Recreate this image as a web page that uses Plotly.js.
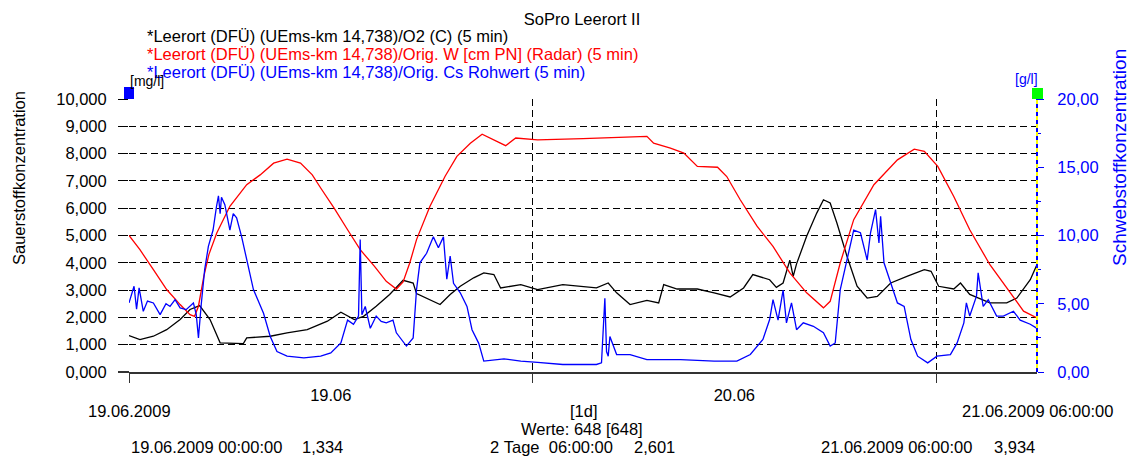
<!DOCTYPE html>
<html>
<head>
<meta charset="utf-8">
<script src="https://cdn.plot.ly/plotly-3.0.1.min.js"></script>
<style>html,body{margin:0;padding:0;background:#fff;}</style>
</head>
<body>
<div id="chart" style="width:1132px;height:457px;"></div>
<script>
// hours since 19.06.2009 00:00 and values
// O2 concentration [mg/l] (left axis)
const o2 = [[0,1.334],[0.65,1.19],[1.45,1.31],[2.24,1.55],[3.04,1.92],[3.63,2.29],[4.2,2.43],[4.82,1.92],[5.42,1.07],[6.2,1.04],[6.8,1.04],[7.0,1.25],[8.4,1.31],[9.4,1.43],[10.6,1.55],[11.8,1.86],[12.6,2.19],[13.4,1.92],[13.95,2.04],[14.7,2.41],[15.5,2.84],[16.3,3.36],[16.9,3.26],[17.1,2.87],[17.9,2.65],[18.5,2.47],[19.1,2.84],[19.7,3.14],[20.5,3.45],[21.1,3.63],[21.7,3.57],[22.1,3.08],[23.3,3.2],[24.3,3.02],[25.8,3.2],[27.8,3.08],[28.5,3.26],[29.0,2.9],[29.8,2.47],[30.8,2.62],[31.5,2.53],[31.8,3.2],[32.6,3.04],[33.8,3.04],[34.8,2.9],[35.75,2.75],[36.55,3.08],[37.1,3.57],[38.1,3.38],[38.5,3.1],[38.9,3.26],[39.3,4.1],[39.5,3.5],[39.7,3.96],[40.3,4.97],[40.9,5.82],[41.3,6.31],[41.7,6.19],[42.1,5.46],[42.7,4.24],[43.3,3.14],[43.9,2.71],[44.5,2.77],[45.3,3.26],[46.3,3.51],[47.3,3.75],[47.7,3.69],[48.15,3.14],[49.05,3.04],[49.45,3.26],[50.0,2.84],[51.2,2.53],[52.2,2.53],[52.8,2.71],[53.6,3.38],[54,3.934]];
// Water level W (Radar), drawn on the left scale
const wRadar = [[0,5.0],[0.65,4.48],[1.45,3.75],[2.24,3.02],[3.04,2.47],[3.63,2.10],[3.9,2.04],[4.13,2.41],[4.45,3.5],[4.75,4.3],[5.22,5.09],[6.0,6.07],[7.0,6.86],[7.8,7.22],[8.6,7.65],[9.4,7.8],[10.2,7.65],[10.9,7.22],[11.4,6.74],[12.2,6.0],[13.0,5.21],[13.75,4.48],[14.6,3.87],[15.3,3.32],[15.9,3.04],[16.3,3.3],[16.7,4.0],[17.1,4.85],[17.9,6.07],[18.8,7.17],[19.5,7.9],[20.3,8.38],[21.0,8.71],[21.7,8.5],[22.4,8.29],[23.0,8.57],[24.3,8.5],[27.0,8.55],[30.8,8.63],[31.2,8.38],[32.2,8.2],[33.0,8.02],[33.8,7.53],[35.0,7.5],[35.55,7.16],[36.35,6.31],[37.35,5.34],[38.3,4.6],[39.3,3.63],[40.3,2.9],[41.3,2.35],[41.7,2.59],[42.3,4.0],[43.1,5.58],[44.3,6.86],[45.7,7.77],[46.7,8.16],[47.3,8.08],[48.1,7.53],[49.05,6.43],[50.0,5.21],[51.2,3.93],[52.4,2.9],[53.2,2.23],[54,1.98]];
// Cs raw value [g/l] (right axis)
const cs = [[0,5.06],[0.3,6.28],[0.45,4.6],[0.6,6.16],[0.85,4.45],[1.1,5.2],[1.45,5.06],[1.85,4.2],[2.2,5.0],[2.44,4.8],[2.74,5.3],[3.04,4.7],[3.4,4.57],[3.83,5.06],[4.0,4.2],[4.13,2.5],[4.3,5.0],[4.5,7.5],[4.72,9.2],[5.0,10.4],[5.2,12.1],[5.32,12.9],[5.42,11.6],[5.5,12.8],[5.7,12.26],[6.0,10.4],[6.2,11.6],[6.4,11.3],[6.7,9.9],[7.0,8.2],[7.4,6.04],[8.0,4.3],[8.4,2.6],[8.8,1.5],[9.4,1.16],[10.4,1.04],[11.4,1.16],[12.0,1.4],[12.6,2.13],[13.0,3.8],[13.35,3.5],[13.65,4.1],[13.75,9.7],[13.85,4.2],[14.05,4.8],[14.35,3.2],[14.7,4.1],[15.0,3.7],[15.3,3.6],[15.7,3.8],[15.9,2.87],[16.5,1.9],[16.9,2.5],[17.1,6.04],[17.3,8.0],[17.7,8.7],[18.1,9.9],[18.4,9.1],[18.7,9.9],[18.9,6.8],[19.1,8.5],[19.3,6.5],[19.7,5.8],[20.1,4.8],[20.4,3.1],[20.8,2.1],[21.1,0.8],[22.3,0.96],[23.3,0.8],[24.3,0.7],[25.8,0.55],[27.8,0.55],[28.1,0.67],[28.3,5.4],[28.4,1.5],[28.5,1.16],[28.6,2.6],[29.0,1.28],[29.8,1.28],[30.8,0.9],[32.8,0.9],[34.8,0.8],[36.15,0.8],[36.95,1.28],[37.7,2.38],[38.1,3.84],[38.3,5.3],[38.6,3.8],[38.9,6.0],[39.1,3.6],[39.4,5.06],[39.7,3.1],[40.1,3.6],[40.7,3.35],[41.3,2.87],[41.7,1.9],[42.0,2.13],[42.3,6.04],[42.6,7.7],[43.1,10.4],[43.5,10.2],[43.9,8.2],[44.1,10.2],[44.4,11.9],[44.6,9.45],[44.7,11.4],[44.9,8.0],[45.3,6.5],[45.7,5.06],[46.1,4.8],[46.5,2.38],[46.9,1.16],[47.5,0.67],[48.05,1.16],[48.85,1.28],[49.25,2.13],[49.65,3.6],[49.8,5.06],[50.0,4.1],[50.4,5.55],[50.5,7.26],[50.8,4.8],[51.1,5.3],[51.6,4.1],[52.0,4.1],[52.6,4.45],[53.0,3.8],[53.6,3.5],[54,3.2]];

const seriesNames = ['*Leerort (DFÜ) (UEms-km 14,738)/O2 (C) (5 min)',
  '*Leerort (DFÜ) (UEms-km 14,738)/Orig. W [cm PN] (Radar) (5 min)',
  '*Leerort (DFÜ) (UEms-km 14,738)/Orig. Cs Rohwert (5 min)'];
const seriesColors = ['#000000', '#ff0000', '#0000ff'];
const dayTickVals = [12, 36];
const dayTickText = ['19.06', '20.06'];
const dayLines = [0, 24, 48];

const FONT = 'Liberation Sans, Arial, sans-serif';
const FS = 16.5;
const col = (arr, i) => arr.map(p => p[i]);

const traces = [
  {x: col(o2,0), y: col(o2,1), type:'scatter', mode:'lines', name: seriesNames[0],
   line:{color: seriesColors[0], width:1.3}, yaxis:'y'},
  {x: col(wRadar,0), y: col(wRadar,1), type:'scatter', mode:'lines', name: seriesNames[1],
   line:{color: seriesColors[1], width:1.3}, yaxis:'y'},
  {x: col(cs,0), y: col(cs,1), type:'scatter', mode:'lines', name: seriesNames[2],
   line:{color: seriesColors[2], width:1.3}, yaxis:'y2'}
];

const pyTop = 99, pyBot = 372, ph = pyBot - pyTop;
const pxL = 129, pw = 908;
const py = v => (pyBot - v) / ph;
const pxx = v => (v - pxL) / pw;

const ann = [];
const txt = (text, x, y, xa, color, size, extra) => ann.push(Object.assign({
  text, x, y, xref:'paper', yref:'paper', xanchor:xa, yanchor:'middle', showarrow:false,
  font:{family:FONT, size:size||FS, color:color||'#000'}}, extra||{}));

// legend lines
seriesNames.forEach((n,i) => txt(n, pxx(145), py(36 + i*18), 'left', seriesColors[i]));
txt('[mg/l]', pxx(128), py(81), 'left', '#000', 14);
txt('[g/l]', pxx(1026), py(79), 'center', '#0000ff', 14);
txt('Sauerstoffkonzentration', pxx(19), py(178), 'center', '#000', FS, {textangle:-90});
txt('Schwebstoffkonzentration', pxx(1119), py(158), 'center', '#0000ff', 19, {textangle:-90});
// bottom info
txt('19.06.2009', 0, py(411), 'center');
txt('[1d]', pxx(583.5), py(411), 'center');
txt('21.06.2009 06:00:00', pxx(1115), py(411), 'right');
txt('Werte: 648 [648]', pxx(582), py(429), 'center');
txt('19.06.2009 00:00:00', 0, py(447), 'left');
txt('1,334', pxx(345), py(447), 'right');
txt('2 Tage  06:00:00'.replace(/ /g,'\u00a0'), pxx(488), py(447), 'left');
txt('2,601', pxx(676.5), py(447), 'right');
txt('21.06.2009 06:00:00', pxx(819), py(447), 'left');
txt('3,934', 1, py(447), 'right');

const layout = {
  width:1132, height:457,
  margin:{l:129, r:95, t:99, b:85, pad:0},
  paper_bgcolor:'#ffffff', plot_bgcolor:'#ffffff',
  font:{family:FONT, size:FS, color:'#000'},
  separators:',.',
  showlegend:false,
  title:{text:'SoPro Leerort II', x:582/1132, xref:'container', xanchor:'center',
         y:1-19/457, yref:'container', yanchor:'middle', font:{family:FONT, size:FS, color:'#000'}},
  xaxis:{range:[0,54], tickmode:'array', tickvals:dayTickVals, ticktext:dayTickText,
    ticks:'outside', ticklen:7, tickcolor:'rgba(0,0,0,0)', showgrid:false, zeroline:false,
    showline:true, linecolor:'#333333', linewidth:2, tickfont:{size:FS},
    minor:{tickmode:'array', tickvals:dayLines, ticks:'outside', ticklen:9, tickwidth:1, tickcolor:'#333',
      showgrid:true, gridcolor:'#000', gridwidth:1, griddash:'7px,4px'}},
  yaxis:{range:[0,10], tickmode:'linear', tick0:0, dtick:1, tickformat:'.3f',
    ticks:'outside', ticklen:10, tickcolor:'#000', tickwidth:1, ticklabelstandoff:8,
    showgrid:true, gridcolor:'#000', gridwidth:1, griddash:'7px,4px',
    zeroline:false, showline:false, tickfont:{size:FS, color:'#000'}},
  yaxis2:{range:[0,20], overlaying:'y', side:'right', tickmode:'linear', tick0:0, dtick:5,
    tickformat:'.2f', ticks:'outside', ticklen:6, tickcolor:'#0000ff', tickwidth:1, ticklabelstandoff:10,
    showgrid:false, zeroline:false, showline:false, tickfont:{size:FS, color:'#0000ff'},
    minor:{dtick:2.5, ticks:'outside', ticklen:3, tickcolor:'#0000ff'}},
  shapes:[
    {type:'line', xref:'paper', yref:'paper', x0:1, x1:1, y0:0, y1:1, line:{color:'#ffff00', width:2}},
    {type:'line', xref:'paper', yref:'paper', x0:1, x1:1, y0:0, y1:1, line:{color:'#0000ff', width:2, dash:'4px,4px'}},
    {type:'line', xref:'paper', yref:'paper', x0:pxx(118), x1:0, y0:0, y1:0, line:{color:'#333333', width:2}},
    {type:'rect', xref:'paper', yref:'paper', x0:pxx(124), x1:pxx(134), y0:py(99), y1:py(87), fillcolor:'#0000ff', line:{width:0}},
    {type:'rect', xref:'paper', yref:'paper', x0:pxx(1032), x1:pxx(1043), y0:py(99), y1:py(88), fillcolor:'#00ff00', line:{width:0}}
  ],
  annotations: ann
};

Plotly.newPlot('chart', traces, layout, {staticPlot:true, displayModeBar:false});
</script>
</body>
</html>
